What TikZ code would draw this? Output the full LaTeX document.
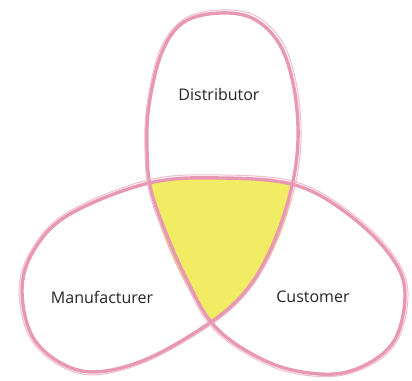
\documentclass[tikz,border=0pt]{standalone}
\usepackage{fontspec}
\setmainfont{Open Sans}
\usetikzlibrary{positioning}
\definecolor{crayonpink}{RGB}{233,152,180}
\definecolor{crayonyellow}{RGB}{242,236,100}

\begin{document}
\begin{tikzpicture}[x=1pt, y=-1pt,
  loop/.style={draw=crayonpink, line width=3.4pt, line join=round},
  label/.style={font=\fontsize{16}{19}\selectfont, text=black!85}]
 \useasboundingbox (0,0) rectangle (412,380);
 \fill[white] (0,0) rectangle (412,380);

 % shared middle part
 \fill[crayonyellow] (150,182) .. controls (200,175) and (250,176) .. (293,184)
   .. controls (286,240) and (258,288) .. (213,322)
   .. controls (185,290) and (160,240) .. cycle;

 % the three loops, one closed stroke
 \draw[loop] plot[smooth cycle, tension=0.6] coordinates {
   (220,13) (184,22) (162,52) (149,105) (147,150) (151,190) (168,238) (188,282) (211,322)
   (245,350) (292,370) (347,372) (392,344) (405,293) (390,255) (348,214)
   (295,185) (222,178) (149,183) (70,214) (34,250) (22,292) (36,342) (82,371)
   (142,361) (211,322) (248,288) (273,244) (291,190) (298,140) (294,88) (280,45) (254,19)};
 \draw[crayonpink!80, line width=1pt, opacity=0.8] plot[smooth cycle, tension=0.6] coordinates {
   (221,10) (184,19) (160,50) (147,105) (145,150) (149,191) (166,240) (186,284) (210,325)
   (245,353) (292,373) (348,374) (394,346) (408,293) (392,253) (350,212)
   (296,182) (222,175) (148,180) (68,212) (32,249) (19,292) (34,344) (82,374)
   (143,363) (212,324) (250,289) (275,245) (294,190) (301,140) (297,87) (283,43) (256,16)};

 \node[label] (distributor) at (219,94) {Distributor};
 \node[label] (manufacturer) at (102,297) {Manufacturer};
 \node[label] (customer) at (313,297) {Customer};
\end{tikzpicture}
\end{document}
